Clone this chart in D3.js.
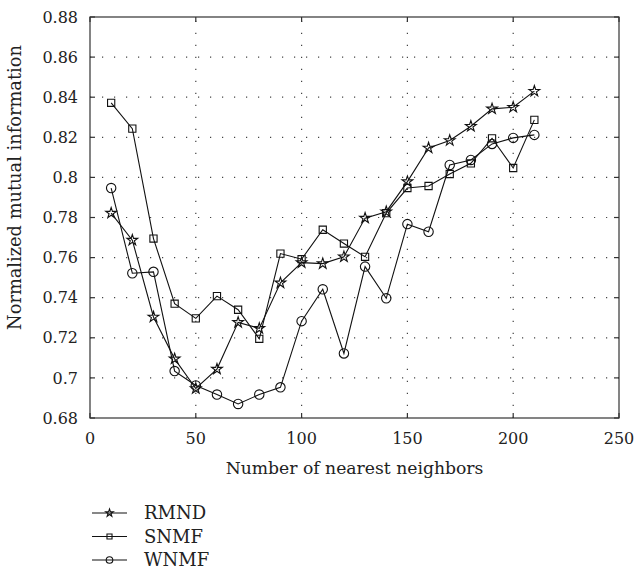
<!DOCTYPE html>
<html>
<head>
<meta charset="utf-8"/>
<script src="https://cdn.jsdelivr.net/npm/d3@7"></script>
<style>
body { margin: 0; background: #fff; }
.grid line { stroke: #444; stroke-width: 1.2; stroke-dasharray: 1.2, 10.8; }
.series path.line { fill: none; stroke: #111; stroke-width: 1.1; }
.marker { fill: none; stroke: #111; stroke-width: 1.1; }
.frame { fill: none; stroke: #333; stroke-width: 1.2; }
.tick-mark { stroke: #333; stroke-width: 1.2; }
</style>
</head>
<body>
<svg></svg>
<script>
// neighbours k
var neighbors = [10, 20, 30, 40, 50, 60, 70, 80, 90, 100, 110, 120, 130, 140, 150, 160, 170, 180, 190, 200, 210];

var rmnd = [0.7822, 0.7687, 0.7304, 0.7095, 0.6947, 0.7044, 0.7277, 0.7247, 0.7474, 0.7575, 0.7570,
            0.7604, 0.7797, 0.7829, 0.7979, 0.8147, 0.8184, 0.8255, 0.8342, 0.8350, 0.8430];
var snmf = [0.8372, 0.8243, 0.7695, 0.7370, 0.7297, 0.7408, 0.7340, 0.7195, 0.7620, 0.7592, 0.7739,
            0.7670, 0.7604, 0.7822, 0.7947, 0.7957, 0.8017, 0.8070, 0.8195, 0.8047, 0.8287];
var wnmf = [0.7947, 0.7522, 0.7529, 0.7034, 0.6962, 0.6917, 0.6870, 0.6917, 0.6953, 0.7283, 0.7442,
            0.7122, 0.7555, 0.7397, 0.7767, 0.7729, 0.8062, 0.8087, 0.8167, 0.8197, 0.8212];

var seriesNames = ["RMND", "SNMF", "WNMF"];
var seriesMarkers = ["star", "square", "circle"];

var xTicks = [0, 50, 100, 150, 200, 250];
var yTicks = [0.68, 0.70, 0.72, 0.74, 0.76, 0.78, 0.80, 0.82, 0.84, 0.86, 0.88];

var W = 634, H = 579;
var m = {left: 90, right: 15, top: 17, bottom: 161};
var w = W - m.left - m.right, h = H - m.top - m.bottom;
var serif = "DejaVu Serif";

var svg = d3.select("svg").attr("width", W).attr("height", H);
var g = svg.append("g").attr("transform", "translate(" + m.left + "," + m.top + ")");

var x = d3.scaleLinear().domain([0, 250]).range([0, w]);
var y = d3.scaleLinear().domain([0.68, 0.88]).range([h, 0]);

// dotted grid
var grid = g.append("g").attr("class", "grid");
grid.selectAll("line.h").data(yTicks.slice(1, -1)).enter().append("line")
    .attr("x1", 0).attr("x2", w)
    .attr("y1", d => y(d)).attr("y2", d => y(d));
grid.selectAll("line.v").data(xTicks.slice(1, -1)).enter().append("line")
    .attr("y1", h).attr("y2", 0)
    .attr("x1", d => x(d)).attr("x2", d => x(d));

// frame + inward ticks
g.append("rect").attr("class", "frame").attr("width", w).attr("height", h);
var tl = 5;
var tk = g.append("g");
xTicks.forEach(function (t) {
  tk.append("line").attr("class", "tick-mark").attr("x1", x(t)).attr("x2", x(t)).attr("y1", h).attr("y2", h - tl);
  tk.append("line").attr("class", "tick-mark").attr("x1", x(t)).attr("x2", x(t)).attr("y1", 0).attr("y2", tl);
});
yTicks.forEach(function (t) {
  tk.append("line").attr("class", "tick-mark").attr("x1", 0).attr("x2", tl).attr("y1", y(t)).attr("y2", y(t));
  tk.append("line").attr("class", "tick-mark").attr("x1", w).attr("x2", w - tl).attr("y1", y(t)).attr("y2", y(t));
});

// tick labels
g.selectAll("text.xt").data(xTicks).enter().append("text")
    .attr("x", d => x(d)).attr("y", h + 26)
    .attr("text-anchor", "middle").attr("font-size", 16).attr("fill", "#222")
    .style("font-family", serif)
    .text(d => d);
g.selectAll("text.yt").data(yTicks).enter().append("text")
    .attr("x", -12).attr("y", d => y(d)).attr("dy", "0.35em")
    .attr("text-anchor", "end").attr("font-size", 16).attr("fill", "#222")
    .style("font-family", serif)
    .text(d => d3.format("")(+d.toFixed(2)));

// axis titles
g.append("text").attr("x", w / 2).attr("y", h + 56)
    .attr("text-anchor", "middle").attr("font-size", 17.2).attr("fill", "#222")
    .style("font-family", serif)
    .text("Number of nearest neighbors");
g.append("text").attr("transform", "translate(" + (-69) + "," + (h / 2 - 30) + ") rotate(-90)")
    .attr("text-anchor", "middle").attr("font-size", 17.8).attr("fill", "#222")
    .style("font-family", serif)
    .text("Normalized mutual information");

function drawMarker(sel, type, scale) {
  if (type === "circle") {
    sel.append("circle").attr("class", "marker").attr("r", 4.7 * scale);
  } else if (type === "square") {
    sel.append("path").attr("class", "marker").attr("d", d3.symbol(d3.symbolSquare).size(52 * scale * scale)());
  } else {
    sel.append("path").attr("class", "marker").attr("d", d3.symbol(d3.symbolStar).size(36 * scale * scale)());
  }
}

var allSeries = [rmnd, snmf, wnmf];
var line = d3.line().x((d, i) => x(neighbors[i])).y(d => y(d));

allSeries.forEach(function (vals, si) {
  var sg = g.append("g").attr("class", "series");
  sg.append("path").attr("class", "line").attr("d", line(vals));
  sg.selectAll("g.pt").data(vals).enter().append("g")
    .attr("transform", (d, i) => "translate(" + x(neighbors[i]) + "," + y(d) + ")")
    .each(function () { drawMarker(d3.select(this), seriesMarkers[si], 1); });
});

// legend
var leg = svg.append("g").attr("transform", "translate(92,513)");
seriesNames.forEach(function (name, i) {
  var row = leg.append("g").attr("transform", "translate(0," + (i * 23.5) + ")");
  row.append("line").attr("x1", 0).attr("x2", 35).attr("y1", 0).attr("y2", 0)
     .attr("stroke", "#111").attr("stroke-width", 1.1);
  var mk = row.append("g").attr("transform", "translate(17.5,0)");
  drawMarker(mk, seriesMarkers[i], 0.7);
  row.append("text").attr("x", 52).attr("y", 0).attr("dy", "0.35em")
     .attr("font-size", 18).attr("fill", "#222").style("font-family", serif).text(name);
});
</script>
</body>
</html>
